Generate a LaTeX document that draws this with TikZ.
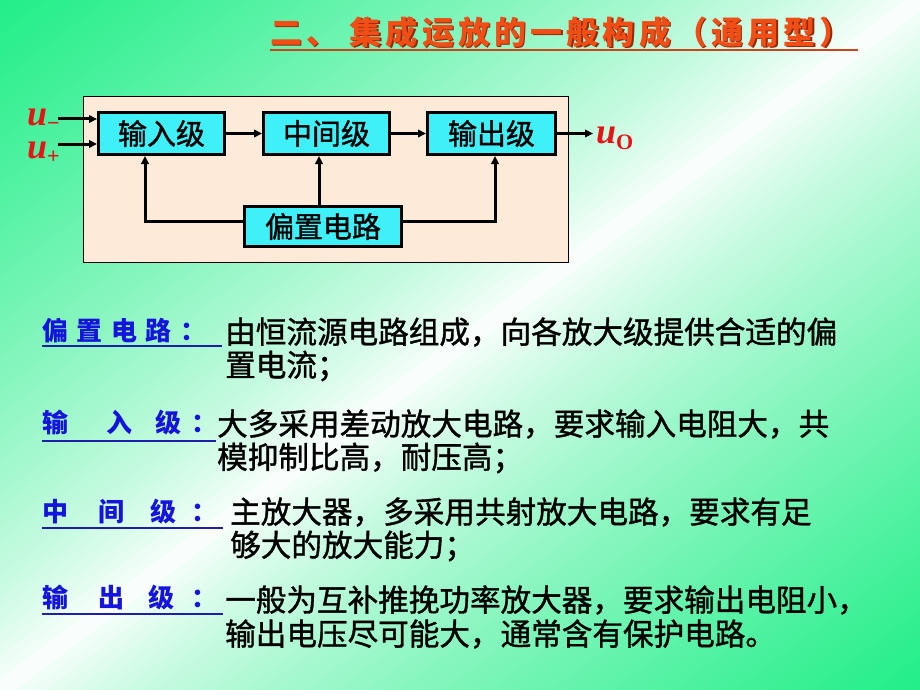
\documentclass[tikz,border=0pt]{standalone}
\usepackage{fontspec}
\setmainfont{Liberation Serif}
\newfontfamily\cjk{Noto Sans CJK SC}
\newfontfamily\cjkm[FakeBold=1.2]{Noto Sans CJK SC}
\newfontfamily\tnr{Liberation Serif}
\usetikzlibrary{arrows.meta}
\definecolor{bgg}{RGB}{34,238,136}
\definecolor{peach}{RGB}{253,234,216}
\definecolor{cyanfill}{RGB}{64,240,248}
\definecolor{titlec}{RGB}{240,78,20}
\definecolor{titlesh}{RGB}{150,40,10}
\definecolor{titleline}{RGB}{200,70,30}
\definecolor{labelc}{RGB}{20,20,220}
\definecolor{labelline}{RGB}{30,30,170}
\definecolor{ured}{RGB}{230,20,20}
\begin{document}
\begin{tikzpicture}[x=1pt,y=-1pt,
  blk/.style={draw=black, line width=3pt, fill=cyanfill, inner sep=0pt,
    font=\cjkm\fontsize{29}{29}\selectfont},
  arr/.style={line width=3pt, -{Triangle[length=8pt,width=7.5pt]}},
  bodytxt/.style={anchor=west, inner sep=0pt, font=\cjkm\fontsize{30.6}{30.6}\selectfont},
  lbltxt/.style={anchor=west, inner sep=0pt, text=labelc, font=\cjk\bfseries\fontsize{26}{26}\selectfont},
  lblline/.style={draw=labelline, line width=2pt},
  ulbl/.style={anchor=west, inner sep=0pt, text=ured, font=\tnr\bfseries\itshape\fontsize{36}{36}\selectfont},
  ttl/.style={anchor=west, inner sep=0pt, font=\cjk\bfseries\fontsize{32}{32}\selectfont\addfontfeature{LetterSpace=13}}
]
\useasboundingbox (0,0) rectangle (920,690);
\begin{scope}
\clip (0,0) rectangle (920,690);
\foreach \i in {0,...,119} {
  \pgfmathsetmacro\ta{\i/60}
  \pgfmathsetmacro\tb{(\i+1)/60}
  \pgfmathsetmacro\g{100*(abs(1-(\i+0.5)/60))^0.75}
  \fill[bgg!\g!white] (920*\ta,0) -- (920*\tb+2,0) -- (0,690*\tb+2) -- (0,690*\ta) -- cycle;
}
\end{scope}

% title
\node[ttl, text=titlesh] (titlesh) at (271.5,33.5) {二、 集成运放的一般构成（通用型）};
\node[ttl, text=titlec] (title) at (270,32) {二、 集成运放的一般构成（通用型）};
\coordinate (tl1) at (270,50);
\coordinate (tl2) at (858,50);
\draw[titleline, line width=2pt] (tl1) -- (tl2);

% frame
\node[draw=black, line width=1pt, fill=peach, minimum width=485pt, minimum height=166pt, inner sep=0pt] (frame) at (326,179.5) {};

% blocks
\node[blk, minimum width=126pt, minimum height=42pt] (in) at (161.5,133.5) {输入级};
\node[blk, minimum width=126pt, minimum height=42pt] (mid) at (326.5,133.5) {中间级};
\node[blk, minimum width=128pt, minimum height=42pt] (out) at (491.5,133.5) {输出级};
\node[blk, minimum width=157pt, minimum height=40pt] (bias) at (323,226.5) {偏置电路};

% connectors
\coordinate (um) at (58,119);
\coordinate (up) at (58,144);
\coordinate (uo) at (593,133.5);
\coordinate (lx) at (145,0);
\coordinate (mx) at (319,0);
\coordinate (rx) at (495,0);
\draw[arr] (um) -- (um -| in.west);
\draw[arr] (up) -- (up -| in.west);
\draw[arr] (in.east) -- (mid.west);
\draw[arr] (mid.east) -- (out.west);
\draw[arr] (out.east) -- (uo);
\draw[arr] ([yshift=5.5pt]bias.west) -| (in.south -| lx);
\draw[arr] (bias.north -| mx) -- (mid.south -| mx);
\draw[arr] ([yshift=5.5pt]bias.east) -| (out.south -| rx);

% u labels
\node[ulbl] (ulm) at (27,120) {u\raisebox{-5pt}{\upshape\fontsize{22}{22}\selectfont −}};
\node[ulbl] (ulp) at (27,153) {u\raisebox{-5pt}{\upshape\fontsize{22}{22}\selectfont +}};
\node[ulbl] (ulo) at (596,138) {u\raisebox{-6pt}{\upshape\fontsize{22}{22}\selectfont O}};

% labels
\node[lbltxt] (l1) at (42,331) {偏\hspace{8.5pt}置\hspace{8.5pt}电\hspace{8.5pt}路\hspace{8.5pt}\makebox[14pt][l]{：}};
\node[lbltxt] (l2) at (42,423) {输\hspace{38pt}入\hspace{23pt}级\hspace{10pt}\makebox[14pt][l]{：}};
\node[lbltxt] (l3) at (42,512) {中\hspace{30pt}间\hspace{26pt}级\hspace{15pt}\makebox[14pt][l]{：}};
\node[lbltxt] (l4) at (42,598) {输\hspace{30pt}出\hspace{24pt}级\hspace{17pt}\makebox[14pt][l]{：}};
\coordinate (a1) at (42,346); \coordinate (b1) at (222,346);
\coordinate (a2) at (42,441); \coordinate (b2) at (216,441);
\coordinate (a3) at (42,528); \coordinate (b3) at (223,528);
\coordinate (a4) at (42,614); \coordinate (b4) at (223,614);
\draw[lblline] (a1) -- (b1);
\draw[lblline] (a2) -- (b2);
\draw[lblline] (a3) -- (b3);
\draw[lblline] (a4) -- (b4);

% body text
\node[bodytxt] (p1a) at (225,332) {由恒流源电路组成，向各放大级提供合适的偏};
\node[bodytxt] (p1b) at (225,366) {置电流；};
\node[bodytxt] (p2a) at (217,424) {大多采用差动放大电路，要求输入电阻大，共};
\node[bodytxt] (p2b) at (217,458) {模抑制比高，耐压高；};
\node[bodytxt] (p3a) at (230,512) {主放大器，多采用共射放大电路，要求有足};
\node[bodytxt] (p3b) at (230,546) {够大的放大能力；};
\node[bodytxt] (p4a) at (225,600) {一般为互补推挽功率放大器，要求输出电阻小，};
\node[bodytxt] (p4b) at (225,634) {输出电压尽可能大，通常含有保护电路。};
\end{tikzpicture}
\end{document}
